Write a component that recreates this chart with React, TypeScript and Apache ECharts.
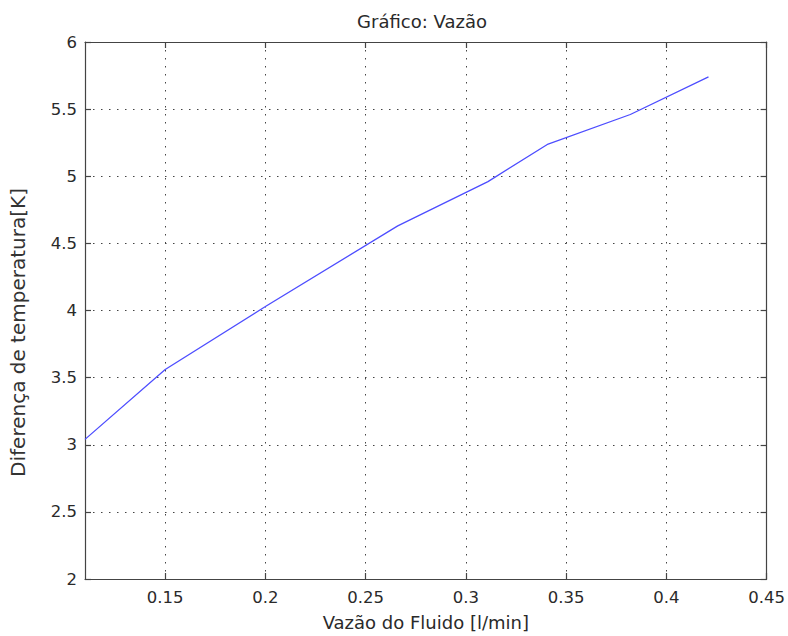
import React, { useEffect, useRef } from "react";
import * as echarts from "echarts";

const flowRates = [0.11, 0.15, 0.2, 0.266, 0.311, 0.341, 0.382, 0.421];
const tempDiff = [3.04, 3.56, 4.03, 4.63, 4.96, 5.24, 5.46, 5.74];
const xTicks = [0.15, 0.2, 0.25, 0.3, 0.35, 0.4, 0.45];

const titleText = "Gráfico: Vazão";
const xName = "Vazão do Fluido [l/min]";
const yName = "Diferença de temperatura[K]";

export default function App() {
  const ref = useRef<HTMLDivElement>(null);
  useEffect(() => {
    if (!ref.current) return;
    const chart = echarts.init(ref.current, null, { renderer: "svg" });
    const font = "'DejaVu Sans', Verdana, sans-serif";
    const gridStyle = { color: "#444", type: [1.5, 6.5] as any, width: 1 };
    const axisLine = { show: true, lineStyle: { color: "#444", width: 1.2 } };
    const tick = { show: true, inside: true, length: 6, lineStyle: { color: "#444", width: 1.2 } };
    const labelStyle = { color: "#2a2a2a", fontSize: 16.5, fontFamily: font };
    const nameStyle = { color: "#2a2a2a", fontSize: 18, fontFamily: font };
    chart.setOption({
      animation: false,
      backgroundColor: "#fff",
      title: {
        text: titleText,
        left: 417,
        top: 7,
        textAlign: "center",
        textStyle: { fontSize: 18, fontWeight: "normal", color: "#2a2a2a", fontFamily: font },
      },
      grid: { left: 84, top: 42, right: 21, bottom: 56, containLabel: false },
      xAxis: [
        {
          type: "value",
          min: 0.11,
          max: 0.45,
          axisLine,
          axisTick: { ...tick, customValues: xTicks },
          splitLine: { show: true, lineStyle: gridStyle, customValues: xTicks },
          axisLabel: {
            ...labelStyle,
            margin: 10,
            customValues: xTicks,
            formatter: (v: number) => String(Math.round(v * 100) / 100),
          },
          name: xName,
          nameLocation: "middle",
          nameGap: 34,
          nameTextStyle: nameStyle,
        },
        {
          type: "value",
          position: "top",
          min: 0.11,
          max: 0.45,
          axisLine,
          axisTick: { ...tick, customValues: xTicks },
          splitLine: { show: false },
          axisLabel: { show: false },
        },
      ],
      yAxis: [
        {
          type: "value",
          min: 2,
          max: 6,
          interval: 0.5,
          axisLine,
          axisTick: tick,
          splitLine: { show: true, lineStyle: gridStyle },
          axisLabel: { ...labelStyle, margin: 8 },
          name: yName,
          nameLocation: "middle",
          nameGap: 57,
          nameTextStyle: { ...nameStyle, fontSize: 20, color: "#333", padding: [0, 44, 0, 0] },
        },
        {
          type: "value",
          position: "right",
          min: 2,
          max: 6,
          interval: 0.5,
          axisLine,
          axisTick: tick,
          splitLine: { show: false },
          axisLabel: { show: false },
        },
      ],
      series: [
        {
          type: "line",
          data: flowRates.map((x, i) => [x, tempDiff[i]]),
          showSymbol: false,
          lineStyle: { color: "#4d4dff", width: 1.3 },
          xAxisIndex: 0,
          yAxisIndex: 0,
        },
      ],
    });
    return () => chart.dispose();
  }, []);
  return (
    <div
      ref={ref}
      style={{ position: "absolute", left: 0, top: 0, width: 788, height: 636, background: "#fff" }}
    />
  );
}
